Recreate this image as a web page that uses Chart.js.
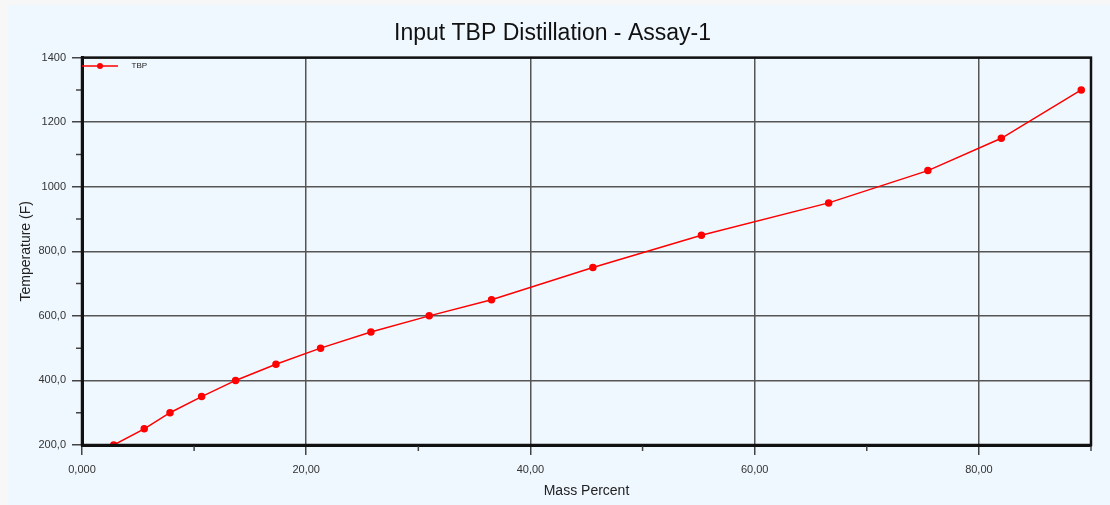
<!DOCTYPE html>
<html><head><meta charset="utf-8">
<script src="https://cdn.jsdelivr.net/npm/chart.js@4.4.1/dist/chart.umd.min.js"></script>
<style>
html,body{margin:0;padding:0;background:#f7f7f7;width:1110px;height:505px;overflow:hidden}
#wrap{position:absolute;left:8px;top:5px;width:1102px;height:500px;background:#f0f8ff}
canvas{display:block}
</style></head><body>
<div id="wrap"><canvas id="c" width="1102" height="500" style="width:1102px;height:500px"></canvas></div>
<script>
const chartTitle = 'Input TBP Distillation - Assay-1';
const seriesName = 'TBP';
const xAxisTitle = 'Mass Percent';
const yAxisTitle = 'Temperature (F)';
const massPercent = [2.83, 5.55, 7.85, 10.67, 13.7, 17.3, 21.28, 25.77, 30.97, 36.53, 45.57, 55.25, 66.6, 75.45, 82.0, 89.13];
const temperature = [200, 250, 300, 350, 400, 450, 500, 550, 600, 650, 750, 850, 950, 1050, 1150, 1300];
const xMajorTicks = [0, 20, 40, 60, 80];
const xMinorTicks = [10, 30, 50, 70, 90];
const xTickLabels = ['0,000', '20,00', '40,00', '60,00', '80,00'];
const yMajorTicks = [200, 400, 600, 800, 1000, 1200, 1400];
const yMinorTicks = [300, 500, 700, 900, 1100, 1300];
const yTickLabels = ['200,0', '400,0', '600,0', '800,0', '1000', '1200', '1400'];

const FONT = "'Liberation Sans', Arial, sans-serif";

const extras = {
  id: 'extras',
  afterDatasetsDraw(chart) {
    const ctx = chart.ctx, a = chart.chartArea;
    const xs = chart.scales.x, ys = chart.scales.y;
    ctx.save();
    // minor ticks
    ctx.strokeStyle = '#444';
    ctx.lineWidth = 1.5;
    ctx.beginPath();
    xMinorTicks.forEach(v => { const p = xs.getPixelForValue(v); ctx.moveTo(p, a.bottom); ctx.lineTo(p, a.bottom + 6); });
    yMinorTicks.forEach(v => { const p = ys.getPixelForValue(v); ctx.moveTo(a.left - 6, p); ctx.lineTo(a.left, p); });
    ctx.stroke();
    // frame
    ctx.strokeStyle = '#111';
    ctx.lineWidth = 2.5;
    ctx.strokeRect(a.left, a.top, a.right - a.left, a.bottom - a.top);
    // legend
    const ly = a.top + 8.5;
    ctx.strokeStyle = '#ff0000';
    ctx.lineWidth = 1.5;
    ctx.beginPath(); ctx.moveTo(a.left, ly); ctx.lineTo(a.left + 36, ly); ctx.stroke();
    ctx.fillStyle = '#ff0000';
    ctx.beginPath(); ctx.arc(a.left + 18, ly, 3, 0, Math.PI * 2); ctx.fill();
    ctx.fillStyle = '#222';
    ctx.font = '8px ' + FONT;
    ctx.textBaseline = 'middle';
    ctx.textAlign = 'left';
    ctx.fillText(seriesName, a.left + 49.5, ly);
    ctx.restore();
  }
};

new Chart(document.getElementById('c'), {
  type: 'scatter',
  data: {
    datasets: [{
      label: seriesName,
      data: massPercent.map((x, i) => ({ x: x, y: temperature[i] })),
      showLine: true,
      borderColor: '#ff0000',
      backgroundColor: '#ff0000',
      borderWidth: 1.5,
      pointRadius: 3,
      pointHoverRadius: 3,
      pointBackgroundColor: '#ff0000',
      pointBorderColor: '#ff0000',
      tension: 0
    }]
  },
  options: {
    responsive: false,
    animation: false,
    layout: { padding: { left: 6, right: 19, top: 0, bottom: 0 } },
    plugins: {
      legend: { display: false },
      tooltip: { enabled: false },
      title: {
        display: true,
        text: chartTitle,
        color: '#111',
        font: { family: FONT, size: 23, weight: 'normal' },
        padding: { top: 15, bottom: 10 }
      }
    },
    scales: {
      x: {
        type: 'linear',
        min: 0, max: 90,
        afterBuildTicks: s => { s.ticks = xMajorTicks.map(v => ({ value: v })); },
        afterFit: s => { s.height = 60; },
        ticks: {
          autoSkip: false, maxRotation: 0, padding: 8,
          color: '#333', font: { family: FONT, size: 11 },
          callback: v => xTickLabels[xMajorTicks.indexOf(v)]
        },
        grid: { color: '#555', lineWidth: 1.5, tickLength: 10, tickColor: '#444' },
        border: { display: true, color: '#111', width: 3 },
        title: { display: true, text: xAxisTitle, color: '#222', font: { family: FONT, size: 14 }, padding: { top: 4, bottom: 5 } }
      },
      y: {
        type: 'linear',
        min: 200, max: 1400,
        afterBuildTicks: s => { s.ticks = yMajorTicks.map(v => ({ value: v })); },
        afterFit: s => { s.width = 68; },
        ticks: {
          autoSkip: false, padding: 6,
          color: '#333', font: { family: FONT, size: 11 },
          callback: v => yTickLabels[yMajorTicks.indexOf(v)]
        },
        grid: { color: '#555', lineWidth: 1.5, tickLength: 10, tickColor: '#444' },
        border: { display: true, color: '#111', width: 3 },
        title: { display: true, text: yAxisTitle, color: '#222', font: { family: FONT, size: 14 }, padding: { top: 4, bottom: 4 } }
      }
    }
  },
  plugins: [extras]
});
</script>
</body></html>
